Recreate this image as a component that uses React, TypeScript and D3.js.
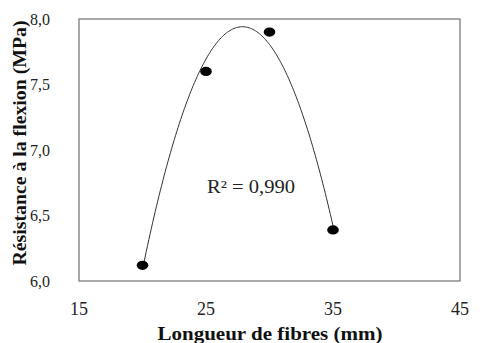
import React from "react";
import * as d3 from "d3";

const fibreLength = [20, 25, 30, 35];
const flexStrength = [6.12, 7.6, 7.9, 6.39];
const xTicks = [15, 25, 35, 45];
const yTicks = [6.0, 6.5, 7.0, 7.5, 8.0];
const r2Label = "R² = 0,990";
const xTitle = "Longueur de fibres (mm)";
const yTitle = "Résistance à la flexion (MPa)";

function quadFit(xs: number[], ys: number[]) {
  // least squares y = a + b x + c x^2
  const n = xs.length;
  let s0 = n, s1 = 0, s2 = 0, s3 = 0, s4 = 0, t0 = 0, t1 = 0, t2 = 0;
  for (let i = 0; i < n; i++) {
    const x = xs[i], y = ys[i];
    s1 += x; s2 += x * x; s3 += x * x * x; s4 += x * x * x * x;
    t0 += y; t1 += x * y; t2 += x * x * y;
  }
  const M = [
    [s0, s1, s2, t0],
    [s1, s2, s3, t1],
    [s2, s3, s4, t2],
  ];
  for (let i = 0; i < 3; i++) {
    for (let k = i + 1; k < 3; k++) {
      const f = M[k][i] / M[i][i];
      for (let j = i; j < 4; j++) M[k][j] -= f * M[i][j];
    }
  }
  const c = M[2][3] / M[2][2];
  const b = (M[1][3] - M[1][2] * c) / M[1][1];
  const a = (M[0][3] - M[0][1] * b - M[0][2] * c) / M[0][0];
  return (x: number) => a + b * x + c * x * x;
}

export default function App() {
  const W = 488, H = 343;
  const left = 79, right = 460, top = 19, bottom = 281;
  const x = d3.scaleLinear().domain([15, 45]).range([left, right]);
  const y = d3.scaleLinear().domain([6, 8]).range([bottom, top]);
  const f = quadFit(fibreLength, flexStrength);
  const xs = d3.range(20, 35.001, 0.1);
  const line = d3
    .line<number>()
    .x((d) => x(d))
    .y((d) => y(f(d)))
    .curve(d3.curveLinear);
  const serif = "Liberation Serif, Tinos, DejaVu Serif, Noto Serif, serif";
  return (
    <div style={{ position: "absolute", left: 0, top: 0 }}>
      <svg width={W} height={H} style={{ display: "block", background: "#fff" }}>
        <rect x={0} y={0} width={W} height={H} fill="#fff" />
        <rect
          x={left}
          y={top}
          width={right - left}
          height={bottom - top}
          fill="none"
          stroke="#707070"
          strokeWidth={1.2}
        />
        <path d={line(xs) || ""} fill="none" stroke="#333" strokeWidth={1} />
        {fibreLength.map((v, i) => (
          <ellipse key={i} cx={x(v)} cy={y(flexStrength[i])} rx={5.8} ry={4.6} fill="#000" />
        ))}
        {yTicks.map((t) => (
          <text
            key={t}
            x={50}
            y={y(t)}
            dy="0.35em"
            textAnchor="end"
            style={{ fontFamily: serif }}
            fontSize={16}
            fill="#222"
          >
            {d3.format(".1f")(t).replace(".", ",")}
          </text>
        ))}
        {xTicks.map((t) => (
          <text
            key={t}
            x={x(t)}
            y={309}
            dy="0.35em"
            textAnchor="middle"
            style={{ fontFamily: serif }}
            fontSize={18}
            fill="#222"
          >
            {t}
          </text>
        ))}
        <text
          x={251}
          y={187}
          dy="0.35em"
          textAnchor="middle"
          style={{ fontFamily: serif }}
          fontSize={18}
          textLength={88}
          lengthAdjust="spacingAndGlyphs"
          fill="#222"
        >
          {r2Label}
        </text>
        <text
          x={270}
          y={334}
          dy="0.35em"
          textAnchor="middle"
          style={{ fontFamily: serif }}
          fontWeight="bold"
          fontSize={18}
          textLength={225}
          lengthAdjust="spacingAndGlyphs"
          fill="#111"
        >
          {xTitle}
        </text>
        <text
          transform={`translate(20,${143}) rotate(-90)`}
          dy="0.35em"
          textAnchor="middle"
          style={{ fontFamily: serif }}
          fontWeight="bold"
          fontSize={18}
          textLength={245}
          lengthAdjust="spacingAndGlyphs"
          fill="#111"
        >
          {yTitle}
        </text>
      </svg>
    </div>
  );
}
